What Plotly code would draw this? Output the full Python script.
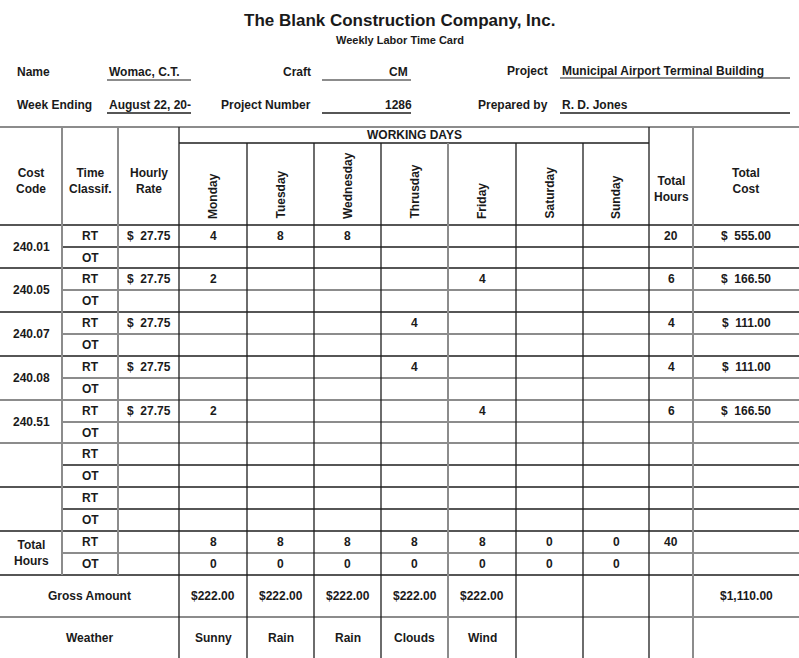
import plotly.graph_objects as go

# ---------------- data ----------------
company = "The Blank Construction Company, Inc."
subtitle = "Weekly Labor Time Card"
info_labels = ["Name", "Craft", "Project", "Week Ending", "Project Number", "Prepared by"]
info_values = ["Womac, C.T.", "CM", "Municipal Airport Terminal Building",
               "August 22, 20-", "1286", "R. D. Jones"]

days = ["Monday", "Tuesday", "Wednesday", "Thrusday", "Friday", "Saturday", "Sunday"]
cost_codes = ["240.01", "240.05", "240.07", "240.08", "240.51", "", ""]
hourly_rates = ["$  27.75", "$  27.75", "$  27.75", "$  27.75", "$  27.75", "", ""]
rt_hours = [
    ["4", "8", "8", "", "", "", ""],
    ["2", "", "", "", "4", "", ""],
    ["", "", "", "4", "", "", ""],
    ["", "", "", "4", "", "", ""],
    ["2", "", "", "", "4", "", ""],
    ["", "", "", "", "", "", ""],
    ["", "", "", "", "", "", ""],
]
total_hours = ["20", "6", "4", "4", "6", "", ""]
total_cost = ["$  555.00", "$  166.50", "$  111.00", "$  111.00", "$  166.50", "", ""]
total_rt = ["8", "8", "8", "8", "8", "0", "0"]
total_ot = ["0", "0", "0", "0", "0", "0", "0"]
total_rt_sum = "40"
gross_amount = ["$222.00", "$222.00", "$222.00", "$222.00", "$222.00", "", ""]
gross_total = "$1,110.00"
weather = ["Sunny", "Rain", "Rain", "Clouds", "Wind", "", ""]

# ---------------- layout geometry ----------------
W, H = 799, 658
FONT = "Liberation Sans, Arial, Helvetica, sans-serif"
TXT = "#1a1a1a"
GRAY = "#8c8c8c"
BLACK = "#1e1e1e"

col_x = [0, 62, 118, 179, 247, 314, 381, 448, 516, 583, 649, 693, 799]
y_top, y_wd, y_hdr = 127, 143, 225
row_y = [225, 247, 268, 290, 312, 334, 356, 378, 400, 422, 443, 465, 487, 509, 531, 553, 575]
y_gross, y_end = 617, 658

shapes = []
annotations = []


def hline(y, x0, x1, color):
    shapes.append(dict(type="line", xref="x", yref="y", x0=x0, x1=x1, y0=y, y1=y,
                       line=dict(color=color, width=2 if color == GRAY else 1.3)))


def vline(x, y0, y1, color):
    shapes.append(dict(type="line", xref="x", yref="y", x0=x, x1=x, y0=y0, y1=y1,
                       line=dict(color=color, width=2 if color == GRAY else 1.3)))


def text(x, y, s, size=12, xanchor="center", yanchor="middle", angle=0):
    if s == "":
        return
    s = s.replace("  ", "\u00a0\u00a0")
    annotations.append(dict(x=x, y=y, xref="x", yref="y", text="<b>%s</b>" % s,
                            showarrow=False, xanchor=xanchor, yanchor=yanchor,
                            textangle=angle,
                            font=dict(family=FONT, size=size, color=TXT)))


def cx(i):
    return (col_x[i] + col_x[i + 1]) / 2


# ---- title block ----
text(W / 2, 20, company, size=17)
text(W / 2, 40, subtitle, size=11)

# (label x, anchor, value x, value anchor, underline x0, x1, text y, underline y)
rows_info = [
    (15, "left", 107, "left", 107, 191, 72, 80),
    (313, "right", 398, "center", 322, 411, 72, 80),
    (550, "right", 560, "left", 560, 790, 71, 78),
    (15, "left", 107, "left", 107, 191, 105, 113),
    (313, "right", 398, "center", 322, 411, 105, 113),
    (550, "right", 560, "left", 560, 790, 105, 113),
]
for lab, val, (lx, la, vx, va, u0, u1, ty, uy) in zip(info_labels, info_values, rows_info):
    text(lx, ty, lab, xanchor=la)
    text(vx, ty, val, xanchor=va)
    hline(uy, u0, u1, BLACK if ty > 90 else GRAY)

# ---- table grid ----
hline(y_top, 0, W, GRAY)
hline(y_wd, col_x[3], col_x[10], BLACK)
group_colors = [BLACK, BLACK, BLACK, BLACK, GRAY, GRAY, BLACK, BLACK, BLACK]
split_colors = [BLACK, GRAY, GRAY, GRAY, GRAY, BLACK, BLACK, GRAY]
for k, y in enumerate(row_y):
    if k % 2 == 0:
        hline(y, 0, W, group_colors[k // 2])
    else:
        hline(y, col_x[1], W, split_colors[k // 2])
hline(y_gross, 0, W, GRAY)

vcolors = [None, GRAY, GRAY, BLACK, BLACK, BLACK, BLACK, GRAY, BLACK, BLACK, BLACK, GRAY]
for i in range(1, 12):
    if i in (1, 2):
        vline(col_x[i], y_top, row_y[-1], vcolors[i])
    elif i in (3, 10, 11):
        vline(col_x[i], y_top, y_end, vcolors[i])
    else:
        vline(col_x[i], y_wd, y_end, vcolors[i])

# ---- header text ----
hy = 181
text(cx(0), hy, "Cost<br>Code")
text(cx(1), hy, "Time<br>Classif.")
text(cx(2), hy, "Hourly<br>Rate")
text((col_x[3] + col_x[10]) / 2, (y_top + y_wd) / 2, "WORKING DAYS")
for d, day in enumerate(days):
    text(cx(3 + d), 221, day, yanchor="bottom", angle=-90)
text(cx(10), hy + 8, "Total<br>Hours")
text(cx(11), hy, "Total<br>Cost")

# ---- body rows ----
for g in range(7):
    y_rt = (row_y[2 * g] + row_y[2 * g + 1]) / 2
    y_ot = (row_y[2 * g + 1] + row_y[2 * g + 2]) / 2
    text(cx(0), (row_y[2 * g] + row_y[2 * g + 2]) / 2, cost_codes[g])
    text(cx(1), y_rt, "RT")
    text(cx(1), y_ot, "OT")
    text(cx(2), y_rt, hourly_rates[g])
    for d in range(7):
        text(cx(3 + d), y_rt, rt_hours[g][d])
    text(cx(10), y_rt, total_hours[g])
    text(cx(11), y_rt, total_cost[g])

# ---- totals ----
y_trt = (row_y[14] + row_y[15]) / 2
y_tot = (row_y[15] + row_y[16]) / 2
text(cx(0), (row_y[14] + row_y[16]) / 2, "Total<br>Hours")
text(cx(1), y_trt, "RT")
text(cx(1), y_tot, "OT")
for d in range(7):
    text(cx(3 + d), y_trt, total_rt[d])
    text(cx(3 + d), y_tot, total_ot[d])
text(cx(10), y_trt, total_rt_sum)

# ---- gross / weather ----
y_g = (row_y[16] + y_gross) / 2
y_w = (y_gross + y_end) / 2
text((col_x[0] + col_x[3]) / 2, y_g, "Gross Amount")
text((col_x[0] + col_x[3]) / 2, y_w, "Weather")
for d in range(7):
    text(cx(3 + d), y_g, gross_amount[d])
    text(cx(3 + d), y_w, weather[d])
text(cx(11), y_g, gross_total)

fig = go.Figure()
fig.update_layout(
    width=W, height=H,
    margin=dict(l=0, r=0, t=0, b=0),
    paper_bgcolor="white", plot_bgcolor="white",
    xaxis=dict(range=[0, W], visible=False, fixedrange=True),
    yaxis=dict(range=[H, 0], visible=False, fixedrange=True),
    shapes=shapes, annotations=annotations, showlegend=False,
)
fig.write_html("out.html", config={"displayModeBar": False},
               post_script="document.body.style.margin='0px';document.body.style.overflow='hidden';")
